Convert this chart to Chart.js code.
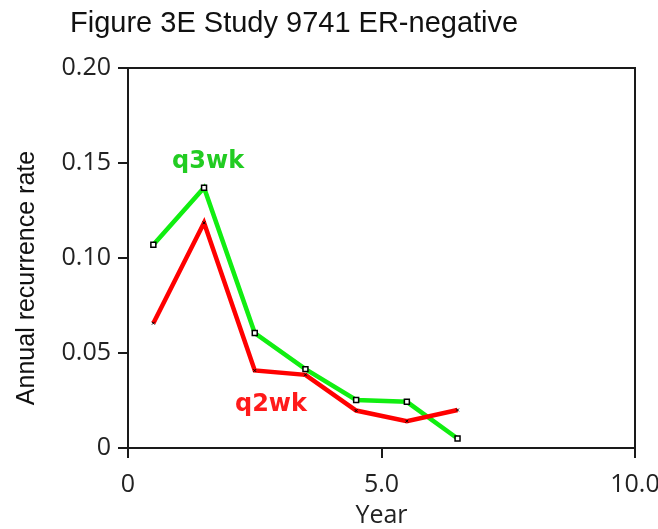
<!DOCTYPE html>
<html>
<head>
<meta charset="utf-8">
<title>Figure 3E Study 9741 ER-negative</title>
<script src="https://cdn.jsdelivr.net/npm/chart.js@4/dist/chart.umd.min.js"></script>
<style>
  html, body { margin: 0; padding: 0; background: #fff; }
  #wrap { position: relative; width: 658px; height: 529px; }
</style>
</head>
<body>
<div id="wrap"><canvas id="recurrenceChart" width="658" height="529"></canvas></div>
<script>
// datos: tasa anual de recurrencia por año de seguimiento
const years = [0.5, 1.5, 2.5, 3.5, 4.5, 5.5, 6.5];
const q3wk = [0.107, 0.137, 0.0605, 0.0415, 0.0253, 0.0243, 0.005];
const q2wk = [0.0657, 0.1185, 0.0408, 0.0385, 0.0197, 0.0141, 0.020];
const yTickLabels = ['0', '0.05', '0.10', '0.15', '0.20'];
const xTickLabels = ['0', '5.0', '10.0'];

const titulo = 'Figure 3E Study 9741 ER-negative';
const tituloY = 'Annual recurrence rate';
const axisColor = '#1a1a1a';
const tickFont = { family: '"Open Sans", sans-serif', size: 25 };

// etiquetas de las series, colocadas en coordenadas de datos
const etiquetas = [
  { text: 'q3wk', x: 1.58, y: 0.1505, color: '#22cc22' },
  { text: 'q2wk', x: 2.82, y: 0.0225, color: '#ff1a1a' }
];

const textosPlugin = {
  id: 'textos',
  afterDraw(chart) {
    const ctx = chart.ctx;
    ctx.save();
    // titulo arriba a la izquierda
    ctx.fillStyle = '#111';
    ctx.font = '29px "Liberation Sans", Arial, sans-serif';
    ctx.textAlign = 'left';
    ctx.textBaseline = 'alphabetic';
    ctx.fillText(titulo, 70, 32);
    // titulo del eje Y, girado
    ctx.save();
    ctx.translate(34, 278);
    ctx.rotate(-Math.PI / 2);
    ctx.font = '25px "Liberation Sans", Arial, sans-serif';
    ctx.textAlign = 'center';
    ctx.fillStyle = '#111';
    ctx.fillText(tituloY, 0, 0);
    ctx.restore();
    // nombres de las series
    ctx.font = 'bold 24px "DejaVu Sans", sans-serif';
    ctx.textAlign = 'center';
    ctx.textBaseline = 'middle';
    etiquetas.forEach(e => {
      ctx.fillStyle = e.color;
      ctx.fillText(e.text, chart.scales.x.getPixelForValue(e.x), chart.scales.y.getPixelForValue(e.y));
    });
    ctx.restore();
  }
};

const toPoints = vals => years.map((x, i) => ({ x, y: vals[i] }));

new Chart(document.getElementById('recurrenceChart'), {
  type: 'line',
  data: {
    datasets: [
      {
        label: 'q2wk',
        data: toPoints(q2wk),
        borderColor: '#ff0000',
        borderWidth: 4.5,
        pointStyle: 'crossRot',
        pointRadius: 2,
        pointBorderColor: '#000',
        pointBorderWidth: 1,
        tension: 0
      },
      {
        label: 'q3wk',
        data: toPoints(q3wk),
        borderColor: '#11ee11',
        borderWidth: 4.5,
        pointStyle: 'rect',
        pointRadius: 3.5,
        pointBackgroundColor: '#fff',
        pointBorderColor: '#000',
        pointBorderWidth: 1.5,
        tension: 0
      }
    ]
  },
  options: {
    responsive: false,
    animation: false,
    layout: { padding: { left: 0, right: 23, top: 68, bottom: 0 } },
    plugins: {
      legend: { display: false },
      tooltip: { enabled: false }
    },
    scales: {
      x: {
        type: 'linear',
        position: 'bottom',
        min: 0,
        max: 10,
        afterBuildTicks: scale => { scale.ticks = [0, 5, 10].map(v => ({ value: v })); },
        afterFit: scale => {
          scale.height = 81;
          scale.paddingLeft = 0;
          scale.paddingRight = 0;
        },
        border: { color: axisColor, width: 2 },
        grid: { drawOnChartArea: false, color: axisColor, lineWidth: 2, tickLength: 10 },
        ticks: {
          font: tickFont,
          color: '#222',
          padding: 12,
          maxRotation: 0,
          callback: (v, i) => xTickLabels[i]
        },
        title: {
          display: true,
          text: 'Year',
          font: { family: '"Open Sans", sans-serif', size: 25 },
          color: '#222',
          padding: { top: 0, bottom: -2 }
        }
      },
      y: {
        type: 'linear',
        position: 'left',
        min: 0,
        max: 0.2,
        afterBuildTicks: scale => { scale.ticks = [0, 0.05, 0.1, 0.15, 0.2].map(v => ({ value: v })); },
        afterFit: scale => {
          scale.width = 128;
          scale.paddingTop = 0;
          scale.paddingBottom = 0;
        },
        border: { color: axisColor, width: 2 },
        grid: { drawOnChartArea: false, color: axisColor, lineWidth: 2, tickLength: 10 },
        ticks: {
          font: tickFont,
          color: '#222',
          padding: 7,
          callback: (v, i) => yTickLabels[i]
        }
      },
      // ejes espejo para cerrar el recuadro arriba y a la derecha
      x2: {
        type: 'linear',
        position: 'top',
        min: 0,
        max: 10,
        afterFit: scale => { scale.height = 0; },
        border: { color: axisColor, width: 2 },
        grid: { drawOnChartArea: false, drawTicks: false },
        ticks: { display: false }
      },
      y2: {
        type: 'linear',
        position: 'right',
        min: 0,
        max: 0.2,
        afterFit: scale => { scale.width = 0; },
        border: { color: axisColor, width: 2 },
        grid: { drawOnChartArea: false, drawTicks: false },
        ticks: { display: false }
      }
    }
  },
  plugins: [textosPlugin]
});
</script>
</body>
</html>
